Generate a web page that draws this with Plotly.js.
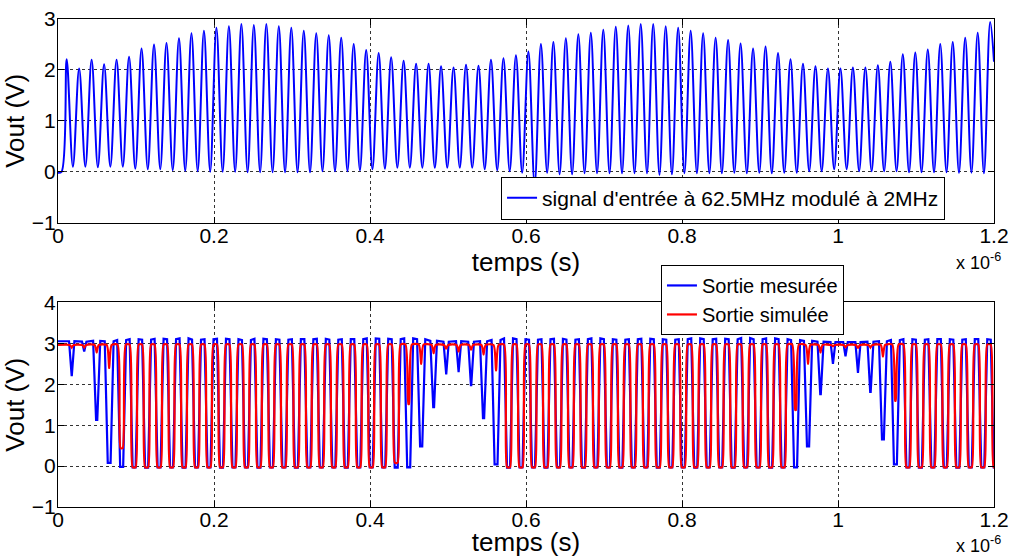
<!DOCTYPE html>
<html>
<head>
<meta charset="utf-8">
<script src="https://cdn.plot.ly/plotly-3.0.1.min.js"></script>
<style>html,body{margin:0;padding:0;background:#fff;}#chart{width:1017px;height:557px;}</style>
</head>
<body>
<div id="chart"></div>
<script>
// ---- data (time in µs, values in V) ----
const cyclePeriod = 0.016;      // 62.5 MHz carrier
const inputPhase = 0.0111;      // time of first input peak
const outputPhase = 0.0176;     // time of first output dip
const inputStartT = [0, 0.0045];
const inputStartV = [-0.02, 0.0];
const inputEndT = 1.2;
const inputEndV = 2.16;

const inputPeaks = [
  2.21, 2.03, 2.20, 2.11, 2.20,
  2.26, 2.42, 2.50, 2.53, 2.62,
  2.72, 2.77, 2.83, 2.86, 2.90,
  2.88, 2.90, 2.86, 2.83, 2.77,
  2.72, 2.68, 2.63, 2.51, 2.39,
  2.33, 2.25, 2.18, 2.12, 2.12,
  2.07, 2.05, 2.10, 2.08, 2.20,
  2.23, 2.29, 2.36, 2.51, 2.55,
  2.62, 2.70, 2.73, 2.79, 2.85,
  2.87, 2.90, 2.90, 2.86, 2.83,
  2.77, 2.72, 2.63, 2.59, 2.52,
  2.42, 2.46, 2.33, 2.21, 2.12,
  2.07, 2.03, 2.03, 2.05, 2.05,
  2.09, 2.16, 2.31, 2.34, 2.40,
  2.51, 2.55, 2.63, 2.73, 2.94
];
const inputTroughs = [
  0.10, 0.10, 0.09, 0.10, 0.10,
  0.06, 0.05, 0.05, 0.03, 0.02,
  0.01, 0.00, 0.00, 0.00, -0.01,
  -0.01, -0.01, -0.01, -0.01, -0.01,
  0.01, 0.01, 0.01, 0.03, 0.05,
  0.06, 0.08, 0.08, 0.08, 0.08,
  0.08, 0.08, 0.08, 0.05, 0.03,
  0.01, -0.02, -0.25, -0.02, -0.05,
  -0.05, -0.03, -0.03, -0.03, -0.03,
  -0.03, -0.03, -0.06, -0.05, -0.03,
  -0.03, -0.03, -0.03, -0.02, -0.03,
  -0.02, -0.03, -0.02, -0.02, 0.01,
  0.01, 0.05, 0.05, 0.01, 0.01,
  0.01, 0.01, -0.01, -0.01, -0.01,
  -0.01, -0.02, -0.02, -0.03
];

const measuredMin = [
  2.22, 2.80, 1.13, 0.08, -0.02,
  -0.03, -0.04, -0.03, -0.03, -0.04,
  -0.03, -0.03, -0.04, -0.03, -0.03,
  -0.04, -0.03, -0.03, -0.04, -0.03,
  -0.03, -0.03, -0.04, -0.03, -0.03,
  -0.03, -0.04, -0.03, 0.48, 1.44,
  2.24, 2.32, 1.98, 1.17, 0.04,
  -0.04, -0.03, -0.03, -0.04, -0.03,
  -0.03, -0.04, -0.03, -0.03, -0.04,
  -0.03, -0.03, -0.04, -0.03, -0.03,
  -0.04, -0.03, -0.03, -0.04, -0.03,
  -0.03, -0.04, -0.03, -0.03, 0.48,
  1.76, 2.50, 2.68, 2.30, 1.81,
  0.65, 0.04, -0.03, -0.04, -0.03,
  -0.03, -0.04, -0.03, -0.03, -0.03
];
const measuredHigh = [
  3.05, 3.04, 3.06, 3.05, 3.08,
  3.10, 3.09, 3.11, 3.10, 3.12,
  3.09, 3.10, 3.11, 3.10, 3.08,
  3.11, 3.10, 3.09, 3.10, 3.10,
  3.11, 3.09, 3.10, 3.10, 3.12,
  3.11, 3.10, 3.12, 3.10, 3.06,
  3.04, 3.05, 3.04, 3.05, 3.08,
  3.12, 3.10, 3.09, 3.10, 3.11,
  3.09, 3.10, 3.12, 3.10, 3.09,
  3.10, 3.11, 3.10, 3.09, 3.10,
  3.12, 3.10, 3.11, 3.10, 3.13,
  3.10, 3.12, 3.10, 3.08, 3.06,
  3.04, 3.03, 3.03, 3.03, 3.04,
  3.05, 3.08, 3.10, 3.09, 3.10,
  3.10, 3.09, 3.10, 3.10, 3.09
];
const simulatedMin = [
  2.90, 2.90, 2.78, 2.40, 0.44,
  -0.03, -0.03, -0.03, -0.03, -0.03,
  -0.03, -0.03, -0.03, -0.03, -0.03,
  -0.03, -0.03, -0.03, -0.03, -0.03,
  -0.03, -0.03, -0.03, -0.03, -0.03,
  -0.03, 0.08, 1.52, 2.50, 2.76,
  2.86, 2.80, 2.83, 2.73, 2.34,
  -0.03, -0.03, -0.03, -0.03, -0.03,
  -0.03, -0.03, -0.03, -0.03, -0.03,
  -0.03, -0.03, -0.03, -0.03, -0.03,
  -0.03, -0.03, -0.03, -0.03, -0.03,
  -0.03, -0.03, -0.03, 1.37, 2.50,
  2.78, 2.93, 2.91, 2.88, 2.90,
  2.68, 1.60, -0.03, -0.03, -0.03,
  -0.03, -0.03, -0.03, -0.03, -0.03
];
const simulatedHigh = [
  2.96, 2.96, 2.96, 2.96, 2.97,
  2.97, 2.97, 2.97, 2.97, 2.97,
  2.97, 2.97, 2.97, 2.97, 2.97,
  2.97, 2.97, 2.97, 2.97, 2.97,
  2.97, 2.97, 2.97, 2.97, 2.97,
  2.97, 2.97, 2.97, 2.97, 2.96,
  2.96, 2.96, 2.96, 2.96, 2.96,
  2.97, 2.97, 2.97, 2.97, 2.97,
  2.97, 2.97, 2.97, 2.97, 2.97,
  2.97, 2.97, 2.97, 2.97, 2.97,
  2.97, 2.97, 2.97, 2.97, 2.97,
  2.97, 2.97, 2.97, 2.97, 2.96,
  2.96, 2.96, 2.96, 2.96, 2.96,
  2.96, 2.97, 2.97, 2.97, 2.97,
  2.97, 2.97, 2.97, 2.97, 2.97
];

const xTicks = [0, 0.2, 0.4, 0.6, 0.8, 1, 1.2];
const xTickLabels = ['0', '0.2', '0.4', '0.6', '0.8', '1', '1.2'];
const yTicksTop = [-1, 0, 1, 2, 3];
const yTicksBottom = [-1, 0, 1, 2, 3, 4];
const inputName = "signal d'entrée à 62.5MHz modulé à 2MHz";
const measuredName = 'Sortie mesurée';
const simulatedName = 'Sortie simulée';

// ---- build traces from per-cycle readings ----
function buildInput() {
  const x = inputStartT.slice(), y = inputStartV.slice();
  inputPeaks.forEach((p, k) => {
    const tp = inputPhase + k * cyclePeriod;
    x.push(tp); y.push(p);
    if (k < inputTroughs.length) { x.push(tp + cyclePeriod / 2); y.push(inputTroughs[k]); }
  });
  x.push(inputEndT); y.push(inputEndV);
  return {x, y};
}
function buildOutput(mins, highs) {
  const x = [0], y = [highs[0]];
  mins.forEach((lo, k) => {
    const tc = outputPhase + k * cyclePeriod;
    const hi = highs[k];
    const f = Math.max(0, Math.min(1, (hi - lo) / hi));   // relative depth of the dip
    const loHalf = 0.12 * f * f * cyclePeriod;
    const hiHalf = (0.16 + 0.2 * f) * cyclePeriod;
    x.push(tc - hiHalf, tc - loHalf, tc + loHalf, tc + hiHalf);
    y.push(hi, lo, lo, hi);
  });
  return {x, y};
}
const inp = buildInput();
const meas = buildOutput(measuredMin, measuredHigh);
const sim = buildOutput(simulatedMin, simulatedHigh);

const FONT = 'Liberation Sans, Arial, Helvetica, sans-serif';
const traces = [
  {x: inp.x, y: inp.y, type: 'scatter', mode: 'lines', name: inputName,
   line: {color: '#0000FF', width: 2, shape: 'spline', smoothing: 1.0},
   xaxis: 'x', yaxis: 'y', legend: 'legend'},
  {x: meas.x, y: meas.y, type: 'scatter', mode: 'lines', name: measuredName,
   line: {color: '#0000FF', width: 2.2}, xaxis: 'x2', yaxis: 'y2', legend: 'legend2'},
  {x: sim.x, y: sim.y, type: 'scatter', mode: 'lines', name: simulatedName,
   line: {color: '#FF0000', width: 2.2, shape: 'spline', smoothing: 0.6}, xaxis: 'x2', yaxis: 'y2', legend: 'legend2'}
];

const axBase = {
  showline: true, linecolor: '#000', linewidth: 1, mirror: 'ticks',
  ticks: 'inside', ticklen: 6, tickcolor: '#000', tickwidth: 1,
  showgrid: true, gridcolor: '#333', griddash: 'dot', gridwidth: 1,
  zeroline: false, tickfont: {family: FONT, size: 21, color: '#000'},
  ticklabelposition: 'outside'
};
const xCommon = Object.assign({}, axBase, {
  range: [0, 1.2], tickvals: xTicks, ticktext: xTickLabels, automargin: false,
  ticklabelstandoff: -6
});
const yCommon = Object.assign({}, axBase, {automargin: false, ticklabelstandoff: -3});
const layout = {
  width: 1017, height: 557,
  margin: {l: 58, r: 23, t: 19, b: 50},
  paper_bgcolor: '#fff', plot_bgcolor: '#fff',
  font: {family: FONT, color: '#000'},
  showlegend: true,
  xaxis: Object.assign({}, xCommon, {anchor: 'y', domain: [0, 1],
    title: {text: 'temps (s)', font: {size: 26, family: FONT}, standoff: 0}}),
  yaxis: Object.assign({}, yCommon, {anchor: 'x', domain: [0.5826, 1], range: [-1, 3],
    tickvals: yTicksTop,
    title: {text: 'Vout (V)', font: {size: 26, family: FONT}, standoff: 2}}),
  xaxis2: Object.assign({}, xCommon, {anchor: 'y2', domain: [0, 1],
    title: {text: 'temps (s)', font: {size: 26, family: FONT}, standoff: 0}}),
  yaxis2: Object.assign({}, yCommon, {anchor: 'x2', domain: [0, 0.4193], range: [-1, 4],
    tickvals: yTicksBottom,
    title: {text: 'Vout (V)', font: {size: 26, family: FONT}, standoff: 2}}),
  legend: {x: 0.9477, xanchor: 'right', y: 0.589, yanchor: 'bottom',
    bgcolor: '#fff', bordercolor: '#000', borderwidth: 1,
    font: {family: FONT, size: 21, color: '#000'}, tracegroupgap: 0},
  legend2: {x: 0.8397, xanchor: 'right', y: 0.496, yanchor: 'top',
    bgcolor: '#fff', bordercolor: '#000', borderwidth: 1,
    font: {family: FONT, size: 20, color: '#000'}, tracegroupgap: 0},
  annotations: [
    {text: 'x 10<sup>-6</sup>', xref: 'paper', yref: 'paper', x: 1.0096, y: 0.5027,
     xanchor: 'right', yanchor: 'middle', showarrow: false, font: {family: FONT, size: 18, color: '#000'}},
    {text: 'x 10<sup>-6</sup>', xref: 'paper', yref: 'paper', x: 1.0096, y: -0.077,
     xanchor: 'right', yanchor: 'middle', showarrow: false, font: {family: FONT, size: 18, color: '#000'}}
  ]
};
Plotly.newPlot('chart', traces, layout, {displayModeBar: false, staticPlot: true});
</script>
</body>
</html>
